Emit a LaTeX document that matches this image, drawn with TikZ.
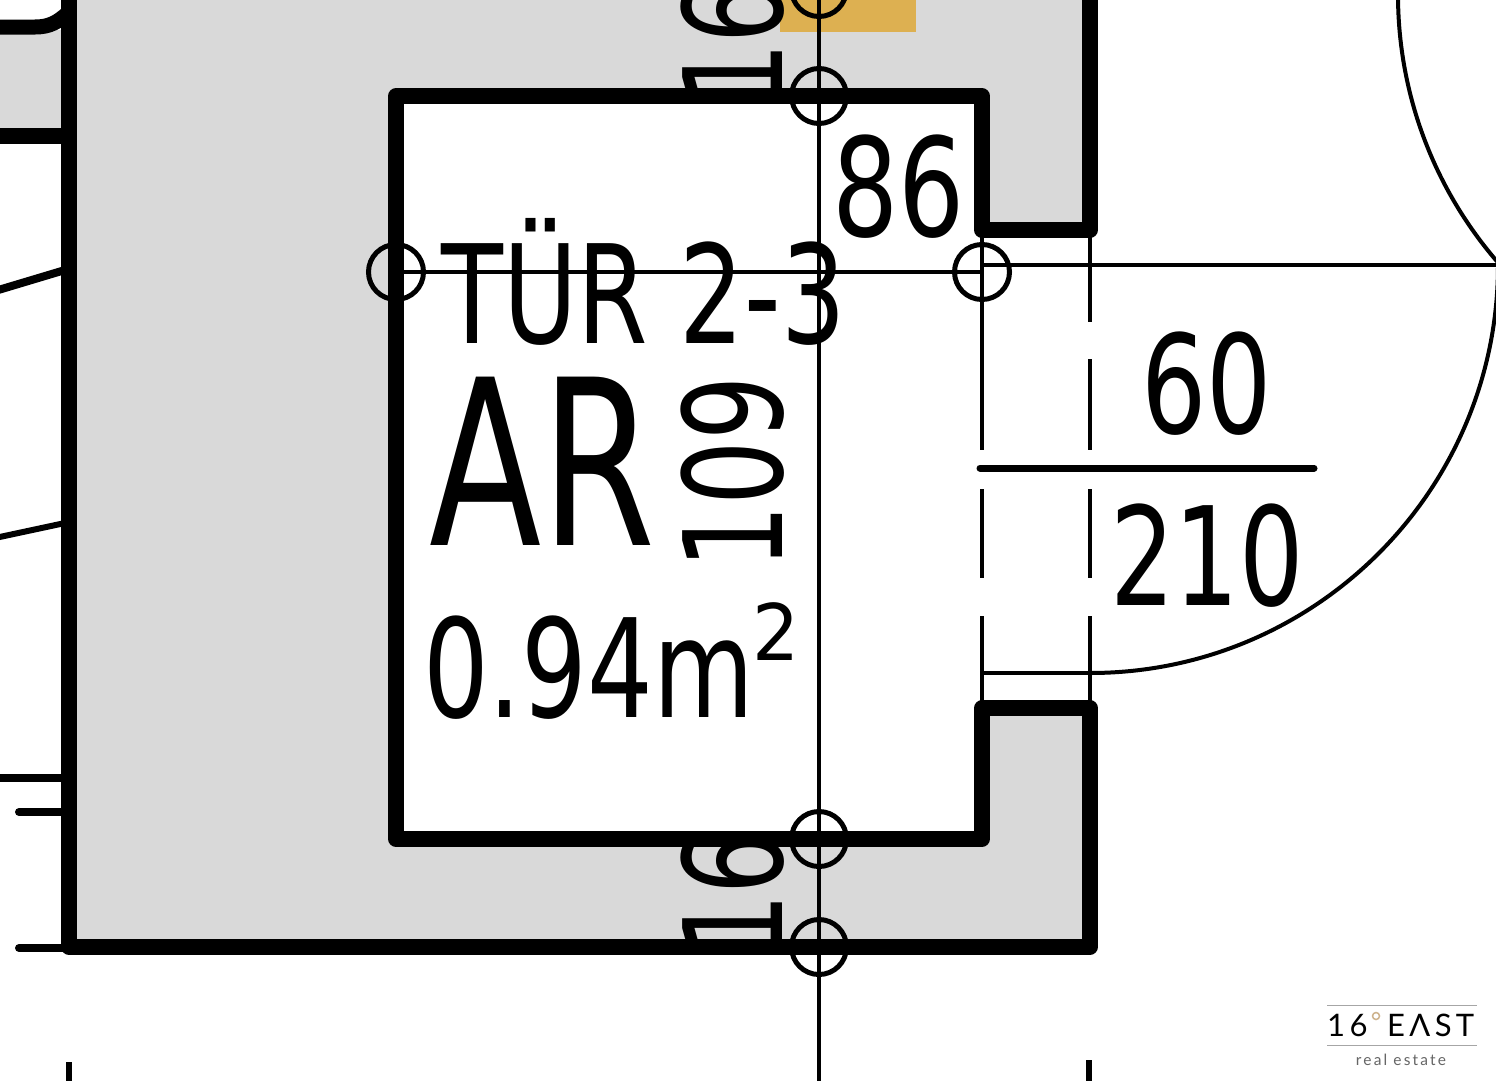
\documentclass[tikz,border=0pt]{standalone}
\usepackage{fontspec}
\setmainfont{DejaVu Sans}
\newfontfamily\logofont[LetterSpace=14]{Lato}
\newcommand{\lbl}[3]{\fontsize{#1}{#1}\selectfont\scalebox{#2}[1]{#3}}
\tikzset{
  x=1pt,y=-1pt,
  wallline/.style={line width=15.5pt,line cap=round,line join=round},
  thinline/.style={line width=3.5pt},
  doorline/.style={line width=4.5pt},
  ring/.style={circle,draw,line width=5pt,minimum size=55pt,inner sep=0pt},
  planlabel/.style={anchor=base west,inner sep=0pt,text=black},
}
\definecolor{wallgrey}{HTML}{D9D9D9}
\definecolor{gold}{HTML}{DDB051}
\definecolor{logotan}{HTML}{CDB28C}
\begin{document}
\begin{tikzpicture}
\useasboundingbox (0,0) rectangle (1496,1080);
\fill[white] (0,0) rectangle (1496,1080);
\begin{scope}
\clip (0,0) rectangle (1496,1080);
% grey wall fills
\fill[wallgrey] (69,-10) -- (1090,-10) -- (1090,230) -- (982,230) -- (982,96) -- (396,96) -- (396,839) -- (982,839) -- (982,708) -- (1090,708) -- (1090,947) -- (69,947) -- cycle;
\fill[wallgrey] (0,30) rectangle (69,136);
\fill[gold] (780,-10) rectangle (916,32);
% rotated dimension texts, partly hidden by walls
\node[planlabel,rotate=90] at (782,106) {\lbl{137}{0.72}{16}};
\node[planlabel,rotate=90] at (782,957) {\lbl{137}{0.72}{16}};
% walls
\draw[wallline] (69,-10) -- (69,947) -- (1090,947) -- (1090,708) -- (982,708) -- (982,839) -- (396,839) -- (396,96) -- (982,96) -- (982,230) -- (1090,230) -- (1090,-10);
\draw[line width=15pt] (-5,27) -- (35,27) .. controls (50,27) and (58,22) .. (69,12);
\draw[line width=16pt] (-5,136) -- (69,136);
\draw[line width=8pt] (-5,291) -- (65,270);
\draw[line width=6pt] (-5,538) -- (65,523);
\draw[line width=8pt] (-5,778) -- (65,778);
\draw[line width=8pt,line cap=round] (19,812) -- (65,812);
\draw[line width=8pt,line cap=round] (19,948) -- (65,948);
% axes
\draw[line width=4.5pt] (819,-10) -- (819,1090);
\draw[thinline] (396,272) -- (982,272);
\draw[line width=4pt] (982,265) -- (1500,265);
% door
\draw[doorline] (982,237) -- (982,450) (982,489) -- (982,578) (982,616) -- (982,708);
\draw[doorline] (1090,237) -- (1090,322) (1090,359) -- (1090,450) (1090,489) -- (1090,578) (1090,616) -- (1090,708);
\draw[line width=7pt,line cap=round] (980,468) -- (1314,468);
\draw[line width=4pt] (982,673) -- (1090,673);
\draw[line width=4pt] (1090,673) arc[start angle=90,end angle=0,radius=408];
\draw[line width=4pt] (1398,-5) arc[start angle=180,end angle=138.5,radius=408];
% rings
\node[ring] (r1) at (819,-11) {};
\node[ring] (r2) at (819,96) {};
\node[ring] (r3) at (819,839) {};
\node[ring] (r4) at (819,947) {};
\node[ring] (r5) at (396,272) {};
\node[ring] (r6) at (982,272) {};
% ticks
\draw[line width=6pt] (69,1062) -- (69,1085);
\draw[line width=6pt] (1089,1060) -- (1089,1085);
% labels
\node[planlabel] (door) at (441,343) {\lbl{137}{0.74}{TÜR 2-3}};
\node[planlabel] (room) at (429,545) {\lbl{231}{0.71}{AR}};
\node[planlabel] (area) at (423,717) {\lbl{137}{0.755}{0.94m}};
\node[planlabel] (sup) at (752,660) {\lbl{78}{0.95}{2}};
\node[planlabel,rotate=90] (h) at (782,570) {\lbl{137}{0.74}{109}};
\node[planlabel] (w) at (832,236) {\lbl{137}{0.76}{86}};
\node[planlabel] (dw) at (1141,433) {\lbl{137}{0.75}{60}};
\node[planlabel] (dh) at (1110,605) {\lbl{137}{0.74}{210}};
% logo
\draw[line width=1pt,black!35] (1327,1005) -- (1477,1005) (1327,1045) -- (1477,1045);
\node[planlabel] (logoa) at (1327,1036) {\logofont\fontsize{31}{31}\selectfont 16};
\node[circle,draw=logotan,line width=1.5pt,minimum size=7pt,inner sep=0pt] (logod) at (1376,1016) {};
\node[planlabel] (logob) at (1387,1036) {\logofont\fontsize{31}{31}\selectfont EΛST};
\node[anchor=base,inner sep=0pt,text=black!60] (logoc) at (1401,1065) {\logofont\fontsize{15.5}{15.5}\selectfont real estate};
\end{scope}
\end{tikzpicture}
\end{document}
